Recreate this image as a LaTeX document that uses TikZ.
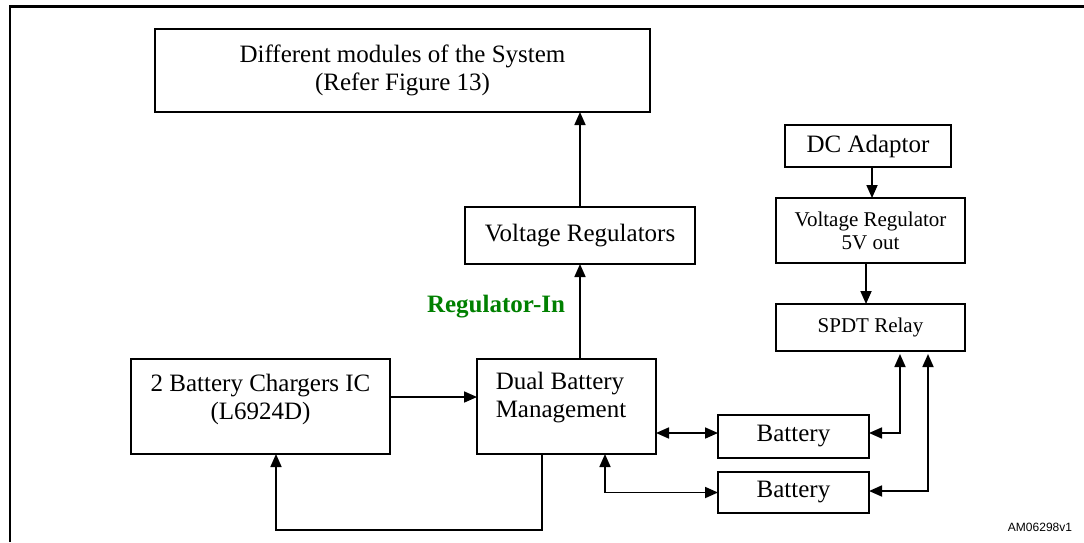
\documentclass[tikz,border=0pt]{standalone}
\usepackage{fontspec}
\setmainfont{Liberation Serif}
\newfontfamily\amsans{Liberation Sans}
\usetikzlibrary{arrows.meta,calc}
\definecolor{reggreen}{RGB}{0,128,0}
\begin{document}
\begin{tikzpicture}[x=1pt,y=-1pt,
  blk/.style={draw=black,line width=2.2pt,inner sep=0pt,outer sep=0pt,fill=white},
  big/.style={font=\fontsize{25}{28}\selectfont,align=center},
  small/.style={font=\fontsize{21}{23}\selectfont,align=center},
  arr/.style={line width=1.7pt,-{Triangle[length=13pt,width=11pt]}},
  darr/.style={line width=1.7pt,{Triangle[length=13pt,width=11pt]}-{Triangle[length=13pt,width=11pt]}}]
\useasboundingbox (0,0) rectangle (1084,542);
\fill[white] (0,0) rectangle (1084,542);
% frame
\draw[line width=2.6pt] (10,542) -- (10,6.7) -- (1084,6.7);
% boxes
\node[blk,big,minimum width=495pt,minimum height=83pt] (top) at (402.5,70.5)
  {Different modules of the System\\(Refer Figure 13)};
\node[blk,big,minimum width=230pt,minimum height=57pt] (vr) at (580,235.5) {Voltage Regulators};
\node[blk,minimum width=179pt,minimum height=95pt] (dbm) at (566.5,406.5) {};
\node[big,align=left,anchor=center] (dbmtext) at (561,398) {Dual Battery\\Management};
\node[blk,minimum width=259pt,minimum height=95pt] (chg) at (260.5,406.5) {};
\node[big] (chgtext) at (260.5,399) {2 Battery Chargers IC\\(L6924D)};
\node[blk,big,minimum width=166pt,minimum height=42pt] (dc) at (868,146) {DC Adaptor};
\node[blk,small,minimum width=189pt,minimum height=65pt] (vr5) at (870.5,230.5) {Voltage Regulator\\5V out};
\node[blk,small,minimum width=189pt,minimum height=47pt] (spdt) at (870.5,327.5) {SPDT Relay};
\node[blk,big,minimum width=151pt,minimum height=43pt] (bat1) at (793.5,436.5) {Battery};
\node[blk,big,minimum width=151pt,minimum height=41pt] (bat2) at (793.5,492.5) {Battery};
% labels
\node[font=\fontsize{25}{28}\selectfont\bfseries,text=reggreen] (regin) at (496,307) {Regulator-In};
\node[font=\amsans\fontsize{12}{13}\selectfont] (amid) at (1040,527) {AM06298v1};
% connectors
\draw[arr] (vr.north) -- (vr.north |- top.south);
\draw[arr] (vr.south |- dbm.north) -- (vr.south);
\draw[arr] ([yshift=9.5pt]chg.east) -- ([yshift=9.5pt]dbm.west);
\draw[arr] ([xshift=-24.5pt]dbm.south) -- ++(0,76) -| ([xshift=15.5pt]chg.south);
\coordinate (b1in) at ([yshift=3.5pt]bat1.west);
\coordinate (b1out) at ([yshift=3.5pt]bat1.east);
\draw[darr] (dbm.east |- b1in) -- (b1in);
\draw[darr] ([xshift=38.5pt]dbm.south) |- (bat2.west);
\draw[arr] ([xshift=4pt]dc.south) -- ([xshift=4pt]dc.south |- vr5.north);
\draw[arr] ([xshift=-4.5pt]vr5.south) -- ([xshift=-4.5pt]spdt.north);
\draw[darr] ([xshift=29.5pt,yshift=-3pt]spdt.south) |- (b1out);
\draw[darr] ([xshift=57.5pt,yshift=-3pt]spdt.south) |- ([yshift=1.5pt]bat2.east);
\end{tikzpicture}
\end{document}
